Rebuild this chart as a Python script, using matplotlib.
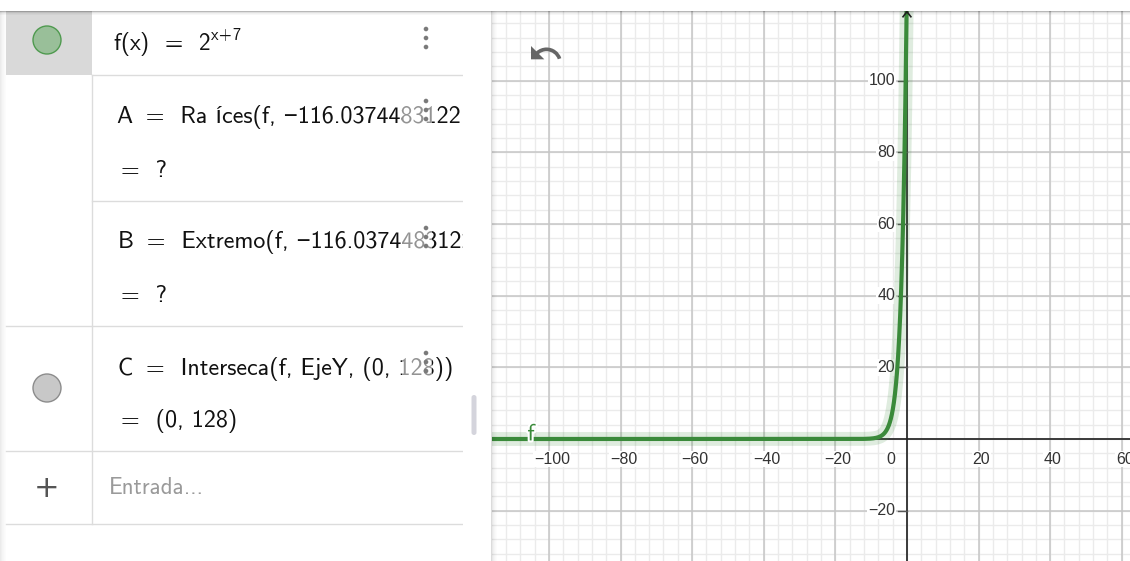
import numpy as np
import matplotlib
matplotlib.use("Agg")
import matplotlib.pyplot as plt
from matplotlib.patches import Rectangle, Circle, FancyBboxPatch, PathPatch
from matplotlib.path import Path
import matplotlib.patheffects as pe

plt.rcParams["mathtext.fontset"] = "custom"
plt.rcParams["mathtext.rm"] = "cmss10"
plt.rcParams["mathtext.it"] = "cmss10"
plt.rcParams["mathtext.sf"] = "cmss10"

# ---------------- data ----------------
func_base = 2          # f(x) = 2^(x+7)
func_shift = 7
x_view = (-115.9, 62.3)
y_view = (-34.05, 119.45)
x_major = [-100, -80, -60, -40, -20, 0, 20, 40, 60]
x_labels = ["\u2212100", "\u221280", "\u221260", "\u221240", "\u221220", "0", "20", "40", "60"]
y_major = [-20, 20, 40, 60, 80, 100]
y_labels = ["\u221220", "20", "40", "60", "80", "100"]
major_step = 20
minor_step = 4

row1_text = "f(x)  =  2$^{\\mathrm{x\\!+\\!7}}$"
row_text_main = [
    "A \u2009=  Ra \u00edces(f, \u2212116.0374483122",
    "B \u2009=  Extremo(f, \u2212116.0374483122",
    "C \u2009=  Interseca(f, EjeY, (0, 128))",
]
row_text_result = ["=  ?", "=  ?", "=  (0, 128)"]
entry_text = "Entrada..."
curve_label = "f"

# ---------------- figure ----------------
W, H = 1130, 561
fig = plt.figure(figsize=(W / 100, H / 100), dpi=100)
fig.patch.set_facecolor("white")

AFONT = ["cmss10", "Liberation Sans", "DejaVu Sans"]
TFONT = ["Liberation Sans", "DejaVu Sans"]
FS = 17.3

bg = fig.add_axes([0, 0, 1, 1])
bg.set_xlim(0, W)
bg.set_ylim(H, 0)
bg.axis("off")

line_c = "#dcdcdc"
for i, a in enumerate([0.08, 0.06, 0.04, 0.03, 0.02, 0.01]):
    bg.add_patch(Rectangle((i, 11), 1, H, color="black", alpha=a, lw=0))
bg.add_patch(Rectangle((6, 11), 86, 64, color="#d9d9d9", lw=0))
bg.plot([92, 462], [75, 75], color=line_c, lw=1)
bg.plot([92, 462], [201, 201], color=line_c, lw=1)
for yy in (326, 451, 524):
    bg.plot([6, 462], [yy, yy], color=line_c, lw=1)
bg.plot([92, 92], [75, 524], color=line_c, lw=1)

bg.add_patch(Circle((47, 40), 14, facecolor="#99bf99", edgecolor="#4f9a4f", lw=1))
bg.add_patch(Circle((47, 388), 14, facecolor="#c8c8c8", edgecolor="#8c8c8c", lw=1))

bg.text(113, 51, row1_text, fontsize=FS - 0.5, family=AFONT, color="#111111", va="baseline")

main_base = [123, 248, 375]
res_base = [177, 302, 427]
main_x = [117, 118, 118]
for t, xb, yb in zip(row_text_main, main_x, main_base):
    bg.text(xb, yb, t, fontsize=FS, family=AFONT, color="#111111", va="baseline")
for t, yb in zip(row_text_result, res_base):
    bg.text(121, yb, t, fontsize=FS, family=AFONT, color="#111111", va="baseline")
for yb in main_base:
    bg.add_patch(Rectangle((402, yb - 20), 30, 26, color="white", alpha=0.55, lw=0, zorder=3))
bg.add_patch(Rectangle((463, 11), 27, H, color="white", lw=0, zorder=4))

dot_centers = [38, 110, 237, 362]
for yc in dot_centers:
    for dy in (-9, 0, 9):
        bg.add_patch(Circle((426, yc + dy), 2.3, color="#7a7a7a", lw=0, zorder=5))

bg.text(47, 488, "+", fontsize=22, family=["DejaVu Sans"], color="#555555",
        ha="center", va="center")
bg.text(109, 494, entry_text, fontsize=16.5, family=AFONT, color="#9a9a9a", va="baseline")

bg.add_patch(FancyBboxPatch((471.5, 395), 5, 40, boxstyle="round,pad=0,rounding_size=2.5",
                            facecolor="#d4d4dc", edgecolor="none", zorder=6))

# ---------------- graphics view ----------------
ax = fig.add_axes([492 / W, 0, (W - 492) / W, (H - 11) / H])
ax.set_xlim(*x_view)
ax.set_ylim(*y_view)
ax.set_facecolor("white")
for s in ax.spines.values():
    s.set_visible(False)
ax.set_xticks([])
ax.set_yticks([])

xs_minor = np.arange(np.ceil(x_view[0] / minor_step) * minor_step, x_view[1] + 0.1, minor_step)
ys_minor = np.arange(np.ceil(y_view[0] / minor_step) * minor_step, y_view[1] + 0.1, minor_step)
for v in xs_minor:
    ax.axvline(v, color="#ebebeb", lw=1, zorder=0)
for v in ys_minor:
    ax.axhline(v, color="#ebebeb", lw=1, zorder=0)
xs_major = np.arange(np.ceil(x_view[0] / major_step) * major_step, x_view[1] + 0.1, major_step)
ys_major = np.arange(np.ceil(y_view[0] / major_step) * major_step, y_view[1] + 0.1, major_step)
for v in xs_major:
    ax.axvline(v, color="#c6c6c6", lw=1.1, zorder=1)
for v in ys_major:
    ax.axhline(v, color="#c6c6c6", lw=1.1, zorder=1)

ax.axhline(0, color="#222222", lw=1.2, zorder=2)
ax.axvline(0, color="#222222", lw=1.2, zorder=2)
ytop = y_view[1]
ax.plot([-1.1, 0, 1.1], [ytop - 1.6, ytop - 0.2, ytop - 1.6], color="#222222", lw=1.2,
        zorder=6, clip_on=False)

for v, lab in zip(x_major, x_labels):
    xp = -4.6 if v == 0 else v + 0.8
    ax.text(xp, -5.6, lab, fontsize=11.5, family=TFONT, color="#333333",
            ha="center", va="center", zorder=3,
            bbox=dict(boxstyle="square,pad=0.05", fc="white", ec="none"))
for v, lab in zip(y_major, y_labels):
    ax.text(-3.3, v, lab, fontsize=11.5, family=TFONT, color="#333333",
            ha="right", va="center", zorder=3,
            bbox=dict(boxstyle="square,pad=0.05", fc="white", ec="none"))
    ax.plot([-2.5, 0], [v, v], color="#555555", lw=1, zorder=3)

x_end = np.log(y_view[1] + 5) / np.log(func_base) - func_shift
xc = np.linspace(x_view[0], x_end, 2000)
yc = func_base ** (xc + func_shift)
gc = "#3a8a3a"
ax.plot(xc, yc, color=gc, lw=10, alpha=0.16, zorder=4, solid_capstyle="round")
ax.plot(xc, yc, color=gc, lw=3, zorder=5)
ax.text(-105, -0.4, curve_label, fontsize=17, family=AFONT, color=gc, ha="center",
        va="baseline", zorder=6,
        path_effects=[pe.withStroke(linewidth=3, foreground="white")])

# ---------------- overlay (shadows, icon) ----------------
ov = fig.add_axes([0, 0, 1, 1])
ov.set_xlim(0, W)
ov.set_ylim(H, 0)
ov.axis("off")
ov.patch.set_alpha(0)
for i, a in enumerate([0.14, 0.09, 0.06, 0.04, 0.025, 0.012]):
    ov.add_patch(Rectangle((491 + i, 11), 1, H, color="black", alpha=a, lw=0))
ov.add_patch(Rectangle((0, 0), W, 10.5, color="white", lw=0))
for i, a in enumerate([0.28, 0.12, 0.06, 0.03]):
    ov.add_patch(Rectangle((0, 10.5 + i), W, 1, color="black", alpha=a, lw=0))

icon = [
    (Path.MOVETO, (12.5, 8)),
    (Path.CURVE4, (9.85, 8)), (Path.CURVE4, (7.45, 8.99)), (Path.CURVE4, (5.6, 10.6)),
    (Path.LINETO, (2, 7)),
    (Path.LINETO, (2, 16)),
    (Path.LINETO, (11, 16)),
    (Path.LINETO, (7.38, 12.38)),
    (Path.CURVE4, (8.77, 11.22)), (Path.CURVE4, (10.54, 10.5)), (Path.CURVE4, (12.5, 10.5)),
    (Path.CURVE4, (16.04, 10.5)), (Path.CURVE4, (19.05, 12.81)), (Path.CURVE4, (20.1, 16)),
    (Path.LINETO, (22.47, 15.22)),
    (Path.CURVE4, (21.08, 11.03)), (Path.CURVE4, (17.15, 8)), (Path.CURVE4, (12.5, 8)),
    (Path.CLOSEPOLY, (12.5, 8)),
]
sc, ox, oy = 1.48, 531, 46
codes = [c for c, _ in icon]
verts = [(ox + (x - 2) * sc, oy + (y - 7) * sc) for _, (x, y) in icon]
ov.add_patch(PathPatch(Path(verts, codes), facecolor="#666666", edgecolor="none"))

fig.savefig("out.png", dpi=100, facecolor="white")
